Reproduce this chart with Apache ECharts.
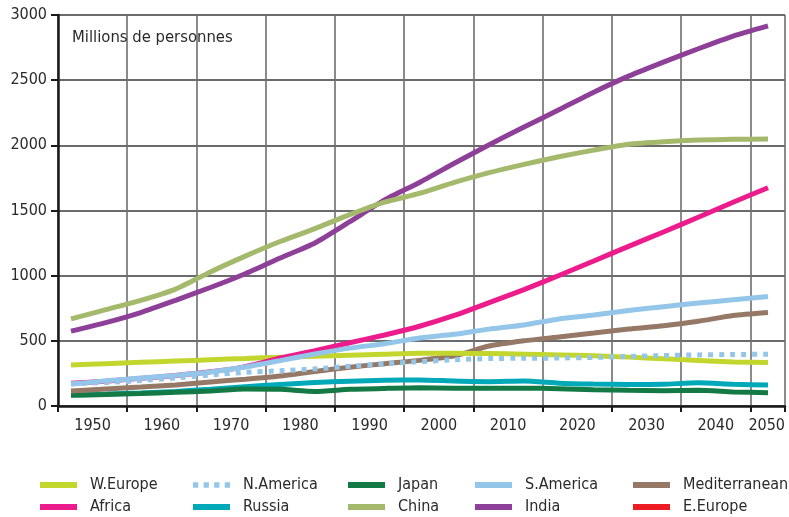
<!DOCTYPE html>
<html>
<head>
<meta charset="utf-8">
<script src="https://cdn.jsdelivr.net/npm/echarts@6/dist/echarts.min.js"></script>
<style>
  html, body { margin: 0; padding: 0; background: #ffffff; }
  #chart { width: 789px; height: 517px; }
</style>
</head>
<body>
<div id="chart"></div>
<script>
// ---- Data (millions of people) ----
const years = [1950, 1955, 1960, 1965, 1970, 1975, 1980, 1985, 1990, 1995, 2000,
               2005, 2010, 2015, 2020, 2025, 2030, 2035, 2040, 2045, 2050];

const wEurope = [315, 325, 335, 345, 355, 365, 375, 382, 390, 398, 405, 405, 402, 398, 392, 385, 375, 362, 350, 338, 333];
const nAmerica = [170, 180, 195, 215, 238, 258, 270, 285, 305, 325, 340, 355, 364, 366, 368, 373, 380, 387, 392, 395, 397];
const japan = [82, 88, 95, 105, 115, 130, 128, 112, 128, 135, 140, 137, 136, 137, 133, 125, 120, 117, 120, 108, 102];
const sAmerica = [168, 193, 214, 235, 261, 299, 348, 399, 444, 478, 522, 550, 590, 622, 668, 698, 733, 762, 790, 815, 840];
const mediterranean = [115, 130, 145, 162, 185, 205, 230, 265, 298, 325, 350, 385, 460, 500, 530, 560, 590, 615, 650, 695, 718];
const africa = [175, 190, 212, 234, 262, 302, 368, 425, 485, 545, 612, 695, 793, 893, 1001, 1113, 1225, 1335, 1448, 1563, 1675];
const russia = [85, 92, 100, 112, 129, 148, 165, 180, 190, 197, 200, 192, 187, 192, 175, 168, 165, 167, 178, 167, 161];
const china = [668, 739, 810, 897, 1029, 1150, 1262, 1361, 1468, 1564, 1631, 1715, 1790, 1854, 1912, 1963, 2008, 2028, 2040, 2046, 2049];
const india = [575, 640, 717, 811, 909, 1015, 1135, 1251, 1414, 1581, 1715, 1862, 2005, 2140, 2273, 2408, 2531, 2639, 2741, 2838, 2916];
const eEurope = [];

const yTicks = { min: 0, max: 3000, step: 500 };
const title = 'Millions de personnes';

// ---- Styling ----
const FONT = '"DejaVu Sans Condensed", "Liberation Sans Narrow", "DejaVu Sans", sans-serif';
const TXT = '#2a2a2a';

const seriesDefs = [
  { name: 'E.Europe', data: eEurope, color: '#ed1c24' },
  { name: 'Russia', data: russia, color: '#00a9b8' },
  { name: 'Japan', data: japan, color: '#137a45' },
  { name: 'Mediterranean', data: mediterranean, color: '#957966' },
  { name: 'W.Europe', data: wEurope, color: '#c2d62e' },
  { name: 'Africa', data: africa, color: '#ec1c8c' },
  { name: 'S.America', data: sAmerica, color: '#94c6ea' },
  { name: 'N.America', data: nAmerica, color: '#94c6ea', dotted: true },
  { name: 'India', data: india, color: '#8e3f98' },
  { name: 'China', data: china, color: '#a4b96b' }
];

const series = seriesDefs.map(d => ({
  name: d.name,
  type: 'line',
  xAxisIndex: 2,
  yAxisIndex: 0,
  data: d.data.map((v, i) => [years[i], v]),
  symbol: 'none',
  showSymbol: false,
  smooth: 0.2,
  silent: true,
  color: d.color,
  itemStyle: { color: d.color },
  lineStyle: {
    color: d.color,
    width: 5,
    cap: 'butt',
    type: d.dotted ? [5, 6] : 'solid'
  }
}));

const dottedIcon = 'path://M0,0h5v5h-5zM10,0h5v5h-5zM20,0h5v5h-5zM30,0h5v5h-5z';

function legendCol(left, names) {
  return {
    orient: 'vertical',
    left: left,
    top: 477,
    padding: 0,
    itemWidth: 37,
    itemHeight: 6,
    itemGap: 6,
    icon: 'rect',
    selectedMode: false,
    data: names.map(n => n === 'N.America' ? { name: n, icon: dottedIcon } : { name: n }),
    textStyle: { fontFamily: FONT, fontSize: 16, color: TXT, lineHeight: 16, padding: [0, 0, 0, 8] }
  };
}

const option = {
  animation: false,
  backgroundColor: '#ffffff',
  title: {
    text: title,
    left: 72,
    top: 29,
    padding: 0,
    textStyle: { fontFamily: FONT, fontSize: 16.5, fontWeight: 'normal', color: TXT }
  },
  grid: { left: 58, right: 4, top: 15, bottom: 111, containLabel: false },
  legend: [
    legendCol(40, ['W.Europe', 'Africa']),
    legendCol(193, ['N.America', 'Russia']),
    legendCol(348, ['Japan', 'China']),
    legendCol(475, ['S.America', 'India']),
    legendCol(633, ['Mediterranean', 'E.Europe'])
  ],
  xAxis: [
    {
      type: 'value', position: 'bottom', min: 1945, max: 2050, interval: 10,
      axisLine: { show: true, lineStyle: { color: '#1a1a1a', width: 2.5 } },
      axisTick: { show: true, length: 6, lineStyle: { color: '#1a1a1a', width: 2 } },
      axisLabel: { show: false },
      splitLine: { show: true, lineStyle: { color: '#6e6e6e', width: 1.6 } }
    },
    {
      type: 'value', position: 'bottom', min: 1945, max: 2050, interval: 5,
      axisLine: { show: false }, axisTick: { show: false }, splitLine: { show: false },
      axisLabel: {
        show: true,
        formatter: v => (Math.round(v) % 10 === 0 ? String(Math.round(v)) : ''),
        margin: 12, fontSize: 16, color: TXT, fontFamily: FONT,
        showMaxLabel: true, alignMaxLabel: 'right'
      }
    },
    {
      type: 'value', position: 'bottom', min: 1948.135, max: 2052.44, show: false
    }
  ],
  yAxis: {
    type: 'value', min: yTicks.min, max: yTicks.max, interval: yTicks.step,
    axisLine: { show: true, lineStyle: { color: '#1a1a1a', width: 2.5 } },
    axisTick: { show: true, length: 7, lineStyle: { color: '#1a1a1a', width: 2 } },
    axisLabel: { margin: 11, fontSize: 16, color: TXT, fontFamily: FONT, formatter: v => String(v) },
    splitLine: { show: true, lineStyle: { color: '#3a3a3a', width: 1.5 } }
  },
  series: series
};

const chart = echarts.init(document.getElementById('chart'), null, { renderer: 'canvas' });
chart.setOption(option);
</script>
</body>
</html>
